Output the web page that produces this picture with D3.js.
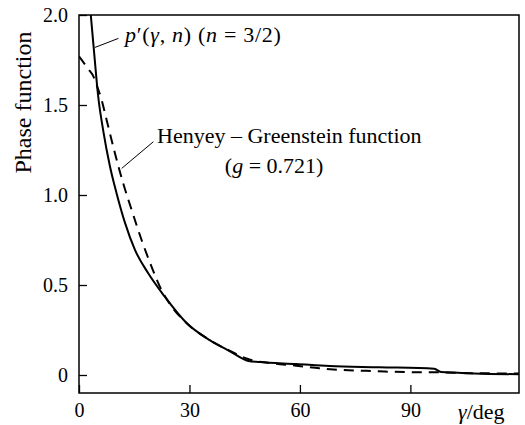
<!DOCTYPE html>
<html>
<head>
<meta charset="utf-8">
<script src="https://cdn.jsdelivr.net/npm/d3@7"></script>
<style>
  body { margin: 0; background: #fff; }
</style>
</head>
<body>
<div id="chart"></div>
<script>
// solid curve p'(gamma, n), n = 3/2
const gammaP = [3.2, 3.9, 5.2, 6.6, 8.4, 10.2, 12.5, 15.2, 18.8, 23.3, 29.2, 35.5, 40.9, 46.0, 49, 59, 68, 81.6, 96.5, 98.3, 107.3, 119.5]
const valueP = [2.0, 1.84, 1.55, 1.355, 1.16, 1.01, 0.845, 0.695, 0.565, 0.435, 0.289, 0.194, 0.133, 0.078, 0.072, 0.061, 0.050, 0.043, 0.035, 0.016, 0.009, 0.004]

// dashed curve, Henyey-Greenstein g = 0.721
const gammaHG = [0, 2.5, 4.0, 4.8, 6.15, 7.5, 9.76, 12.0, 14.3, 17.0, 19.7, 22.4, 25, 29.2, 35.5, 40.9, 45.5, 47, 52, 59, 65.3, 71.6, 78, 83, 90, 96.5, 108, 119.5]
const valueHG = [1.77, 1.70, 1.655, 1.61, 1.528, 1.417, 1.232, 1.065, 0.917, 0.75, 0.602, 0.472, 0.385, 0.289, 0.194, 0.135, 0.092, 0.082, 0.066, 0.052, 0.037, 0.028, 0.023, 0.019, 0.016, 0.015, 0.010, 0.008]

const xTicks = [0, 30, 60, 90]
const yTicks = [0, 0.5, 1.0, 1.5, 2.0]

const width = 525, height = 425
const mLeft = 79, mRight = 519, mTop = 15, mBottom = 393
const serif = "'Times New Roman', Times, 'Liberation Serif', 'DejaVu Serif', 'Noto Serif', serif"

var svg = d3.select("#chart").append("svg")
    .attr("width", width)
    .attr("height", height)
    .style("font-family", serif)

var x = d3.scaleLinear().domain([0, 119.5]).range([mLeft, mRight])
var y = d3.scaleLinear().domain([-0.1, 2.0]).range([mBottom, mTop])

svg.append("defs").append("clipPath").attr("id", "clip")
    .append("rect")
    .attr("x", mLeft).attr("y", mTop)
    .attr("width", mRight - mLeft).attr("height", mBottom - mTop)

// axes, ticks pointing inward
var xAxis = svg.append("g")
    .attr("transform", "translate(0," + mBottom + ")")
    .call(d3.axisBottom(x).tickValues(xTicks).tickSize(-8).tickPadding(10))
xAxis.select(".domain").remove()

var yAxis = svg.append("g")
    .attr("transform", "translate(" + mLeft + ",0)")
    .call(d3.axisLeft(y).tickValues(yTicks).tickSize(-8).tickPadding(11)
        .tickFormat(d => d === 0 ? "0" : d3.format(".1f")(d)))
yAxis.select(".domain").remove()

svg.selectAll("g").attr("font-family", null)
svg.selectAll(".tick text")
    .attr("fill", "#000")
    .style("font-family", serif)
    .style("font-size", "20px")
svg.selectAll(".tick line").attr("stroke", "#000").attr("stroke-width", 1.3)

// frame
svg.append("rect")
    .attr("x", mLeft).attr("y", mTop)
    .attr("width", mRight - mLeft).attr("height", mBottom - mTop)
    .attr("fill", "none")
    .attr("stroke", "#000")
    .attr("stroke-width", 1.5)

var line = d3.line()
    .x(d => x(d[0]))
    .y(d => y(d[1]))
    .curve(d3.curveMonotoneX)

var curves = svg.append("g").attr("clip-path", "url(#clip)")

curves.append("path")
    .datum(d3.zip(gammaHG, valueHG))
    .attr("d", line)
    .attr("fill", "none")
    .attr("stroke", "#000")
    .attr("stroke-width", 2)
    .attr("stroke-dasharray", "10,7")

curves.append("path")
    .datum(d3.zip(gammaP, valueP))
    .attr("d", line)
    .attr("fill", "none")
    .attr("stroke", "#000")
    .attr("stroke-width", 2)

// annotations
svg.append("line")
    .attr("x1", x(4.35)).attr("y1", y(1.82))
    .attr("x2", x(10.7)).attr("y2", y(1.87))
    .attr("stroke", "#000").attr("stroke-width", 1)

svg.append("line")
    .attr("x1", x(20.2)).attr("y1", y(1.296))
    .attr("x2", x(11.6)).attr("y2", y(1.148))
    .attr("stroke", "#000").attr("stroke-width", 1)

var lab1 = svg.append("text")
    .attr("x", x(12.5)).attr("y", y(1.85))
    .style("font-size", "22px")
    .style("letter-spacing", "0.7px")
lab1.append("tspan").attr("font-style", "italic").text("p")
lab1.append("tspan").text("\u2032(")
lab1.append("tspan").attr("font-style", "italic").text("\u03b3")
lab1.append("tspan").text(", ")
lab1.append("tspan").attr("font-style", "italic").text("n")
lab1.append("tspan").text(") (")
lab1.append("tspan").attr("font-style", "italic").text("n")
lab1.append("tspan").text(" = 3/2)")

svg.append("text")
    .attr("x", x(21.2)).attr("y", y(1.289))
    .style("font-size", "22px")
    .text("Henyey \u2013 Greenstein function")

var lab3 = svg.append("text")
    .attr("x", x(39.6)).attr("y", y(1.122))
    .style("font-size", "22px")
lab3.append("tspan").text("(")
lab3.append("tspan").attr("font-style", "italic").text("g")
lab3.append("tspan").text(" = 0.721)")

// axis titles
var xl = svg.append("text")
    .attr("x", 458).attr("y", 419)
    .style("font-size", "22px")
xl.append("tspan").attr("font-style", "italic").text("\u03b3")
xl.append("tspan").text("/deg")

svg.append("text")
    .attr("transform", "translate(31," + ((mTop + 190)/2) + ") rotate(-90)")
    .attr("text-anchor", "middle")
    .style("font-size", "24px")
    .text("Phase function")
</script>
</body>
</html>
